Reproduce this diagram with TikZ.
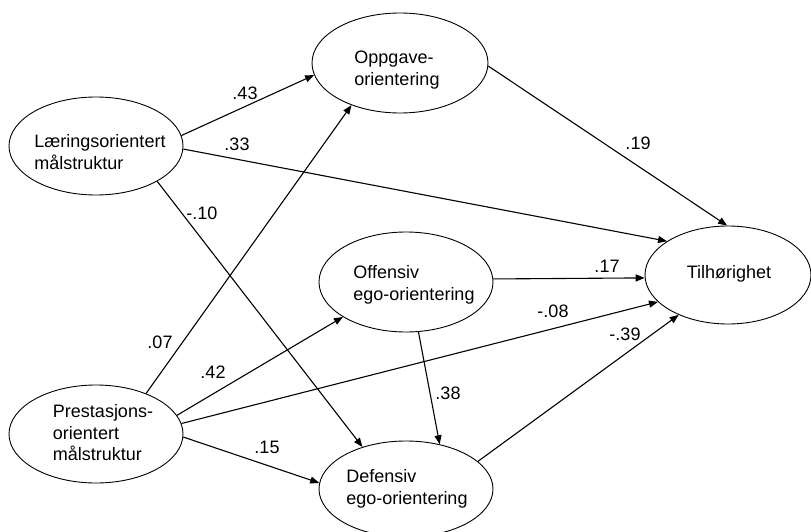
\documentclass[tikz,border=0pt]{standalone}
\usepackage{fontspec}
\setmainfont{Liberation Sans}
\usetikzlibrary{shapes.geometric,arrows.meta}
\begin{document}
\begin{tikzpicture}[x=1pt,y=-1pt,
  construct/.style={draw,ellipse,line width=0.9pt,inner sep=0pt},
  ctext/.style={align=left,inner sep=0pt,font=\fontsize{18}{21.5}\selectfont},
  coef/.style={inner sep=0pt,font=\fontsize{18}{21.5}\selectfont},
  path/.style={line width=1.1pt,-{Triangle[length=9pt,width=7pt]}},
  plain/.style={line width=1.1pt}]
\useasboundingbox (0,0) rectangle (811,532);
\begin{scope}
\clip (0,0) rectangle (811,532);
% latent constructs
\node[construct,minimum width=174pt,minimum height=98pt] (L) at (96,146) {};
\node[construct,minimum width=176pt,minimum height=100pt] (O) at (400,63) {};
\node[construct,minimum width=174pt,minimum height=98pt] (P) at (96,434) {};
\node[construct,minimum width=174pt,minimum height=100pt] (F) at (406,282) {};
\node[construct,minimum width=174pt,minimum height=96pt] (D) at (406,489) {};
\node[construct,minimum width=166pt,minimum height=98pt] (T) at (728,275) {};
\end{scope}
% construct names
\node[ctext] (Ltxt) at (100,152) {Læringsorientert\\målstruktur};
\node[ctext] (Otxt) at (397,70) {Oppgave-\\orientering};
\node[ctext] (Ptxt) at (103,433) {Prestasjons-\\orientert\\målstruktur};
\node[ctext] (Ftxt) at (414,285) {Offensiv\\ego-orientering};
\node[ctext] (Dtxt) at (407,489) {Defensiv\\ego-orientering};
\node[ctext] (Ttxt) at (729,274) {Tilhørighet};
% paths
\draw[path] (L.7.2) -- (O.188.9);
\draw[path] (L.-2.6) -- (T.151.6);
\draw[path] (L.-30.8) -- (D.136.8);
\draw[path] (P.39.9) -- (O.221.3);
\draw[path] (P.13) -- (F.209.4);
\draw[path] (P.7.9) -- (T.201);
\draw[path] (P.-2.6) -- (D.176);
\draw[path] (O.-2.6) -- (T.91);
\draw[path] (F.2) -- (T.182.8);
\draw[path] (F.-76.5) -- (D.53.5);
\draw[path] (D.21.4) -- (T.219);
% path coefficients
\node[coef] (c1) at (245,93) {.43};
\node[coef] (c2) at (237,144) {.33};
\node[coef] (c3) at (202,213) {-.10};
\node[coef] (c4) at (160,342) {.07};
\node[coef] (c5) at (213,372) {.42};
\node[coef] (c6) at (553,311) {-.08};
\node[coef] (c7) at (267,447) {.15};
\node[coef] (c8) at (607,266) {.17};
\node[coef] (c9) at (448,393) {.38};
\node[coef] (c10) at (625,334) {-.39};
\node[coef] (c11) at (638,143) {.19};
\end{tikzpicture}
\end{document}
